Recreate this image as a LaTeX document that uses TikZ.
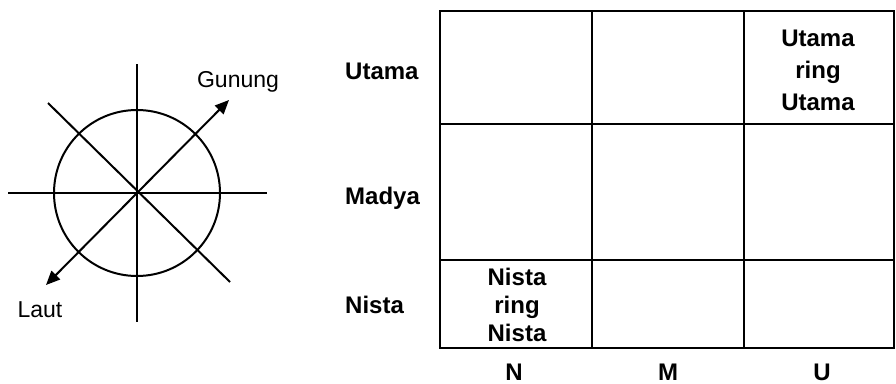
\documentclass[tikz,border=0pt]{standalone}
\usepackage{fontspec}
\setmainfont{Liberation Sans}
\usetikzlibrary{arrows.meta}
\begin{document}
\begin{tikzpicture}[x=1pt,y=-1pt,
  axis/.style={line width=2pt},
  dirarrow/.style={line width=2pt,-{Triangle[length=14pt,width=12pt]}},
  gridline/.style={line width=2.4pt},
  plain/.style={font=\fontsize{23}{27}\selectfont, inner sep=0pt},
  rowlabel/.style={font=\fontsize{24}{28}\selectfont\bfseries, anchor=west, inner sep=0pt},
  collabel/.style={font=\fontsize{24}{28}\selectfont\bfseries, inner sep=0pt, text depth=0pt},
  celltext/.style={font=\fontsize{24}{28}\selectfont\bfseries, align=center, inner sep=0pt}]
\useasboundingbox (0,0) rectangle (896,383);

% compass rose
\node[draw, circle, line width=2pt, minimum size=166pt, inner sep=0pt] (rose) at (137,193) {};
\coordinate (W) at (8,193);
\coordinate (E) at (267,193);
\coordinate (N) at (137,64);
\coordinate (S) at (137,322);
\coordinate (NW) at (48,103);
\coordinate (SE) at (230,282);
\coordinate (NE) at (229,100);
\coordinate (SW) at (46,285);
\draw[axis] (W) -- (E);
\draw[axis] (N) -- (S);
\draw[axis] (NW) -- (SE);
\draw[dirarrow] (rose.center) -- (NE);
\draw[dirarrow] (rose.center) -- (SW);
\node[plain] (gunung) at (238,82) {Gunung};
\node[plain] (laut) at (40,310) {Laut};

% grid of zones
\coordinate (g00) at (440,11);
\coordinate (g33) at (894,348);
\draw[gridline] (g00) rectangle (g33);
\draw[gridline] (592,11) -- (592,348);
\draw[gridline] (744,11) -- (744,348);
\draw[gridline] (440,124) -- (894,124);
\draw[gridline] (440,260) -- (894,260);

\node[celltext, font=\fontsize{24}{32}\selectfont\bfseries] (uu) at (818,70) {Utama\\ring\\Utama};
\node[celltext] (nn) at (517,305) {Nista\\ring\\Nista};

\node[rowlabel] (rU) at (345,71) {Utama};
\node[rowlabel] (rM) at (345,198) {Madya};
\node[rowlabel] (rN) at (345,305) {Nista};

\node[collabel] (cN) at (514,372) {N};
\node[collabel] (cM) at (668,372) {M};
\node[collabel] (cU) at (822,372) {U};
\end{tikzpicture}
\end{document}
